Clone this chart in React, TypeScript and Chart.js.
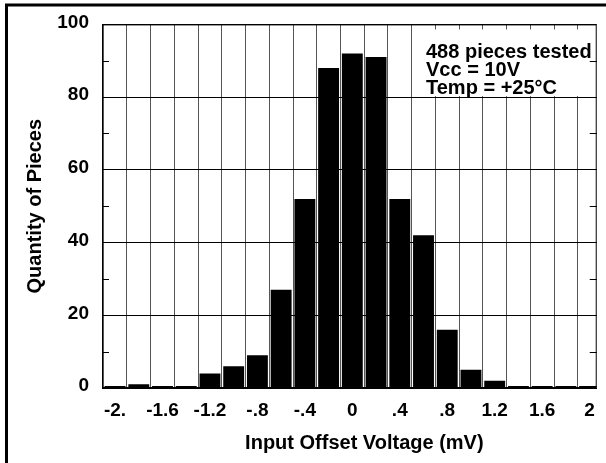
import React, { useEffect, useRef } from 'react';
import { Chart, registerables } from 'chart.js';

Chart.register(...registerables);

const voltages = [-2.0, -1.8, -1.6, -1.4, -1.2, -1.0, -0.8, -0.6, -0.4, -0.2, 0, 0.2, 0.4, 0.6, 0.8, 1.0, 1.2, 1.4, 1.6, 1.8, 2.0];
const counts = [0, 1, 0, 0, 4, 6, 9, 27, 52, 88, 92, 91, 52, 42, 16, 5, 2, 0, 0, 0, 0];
const xTickLabels = ['-2.', '-1.6', '-1.2', '-.8', '-.4', '0', '.4', '.8', '1.2', '1.6', '2'];
const yMinorTicks = [10, 30, 50, 70, 90];
const noteLines = ['488 pieces tested', 'Vcc = 10V', 'Temp = +25°C'];
const xTitle = 'Input Offset Voltage (mV)';
const yTitle = 'Quantity of Pieces';

const FONT = "'Liberation Sans', Arial, Helvetica, sans-serif";

const decorPlugin = {
  id: 'decor',
  beforeDraw(chart: any) {
    const ctx = chart.ctx;
    ctx.save();
    ctx.fillStyle = '#fff';
    ctx.fillRect(0, 0, chart.width, chart.height);
    ctx.strokeStyle = '#000';
    ctx.lineWidth = 3;
    ctx.beginPath();
    ctx.moveTo(6.5, chart.height + 5);
    ctx.lineTo(6.5, 5);
    ctx.lineTo(chart.width + 5, 5);
    ctx.stroke();
    ctx.restore();
  },
  afterDraw(chart: any) {
    const ctx = chart.ctx;
    const a = chart.chartArea;
    const y = chart.scales.y;
    ctx.save();
    // plot frame
    ctx.strokeStyle = '#000';
    ctx.lineWidth = 1;
    ctx.strokeRect(a.left + 0.5, a.top + 0.5, a.right - a.left - 1, a.bottom - a.top - 1);
    // minor ticks inside both sides
    ctx.beginPath();
    yMinorTicks.forEach((v) => {
      const py = Math.round(y.getPixelForValue(v)) + 0.5;
      ctx.moveTo(a.left, py);
      ctx.lineTo(a.left + 7, py);
      ctx.moveTo(a.right, py);
      ctx.lineTo(a.right - 7, py);
    });
    ctx.stroke();
    // annotation box
    const bx = a.left + 319;
    ctx.fillStyle = '#fff';
    ctx.fillRect(bx, a.top + 5, 168, y.getPixelForValue(80) - a.top - 6);
    ctx.fillStyle = '#000';
    ctx.font = `bold 20px ${FONT}`;
    ctx.textAlign = 'left';
    ctx.textBaseline = 'alphabetic';
    noteLines.forEach((t, i) => {
      ctx.fillText(t, bx + 5, a.top + 34 + i * 18);
    });
    // axis titles
    ctx.font = `bold 20px ${FONT}`;
    ctx.textAlign = 'center';
    ctx.textBaseline = 'middle';
    ctx.fillText(xTitle, (a.left + a.right) / 2 + 15, a.bottom + 55);
    ctx.save();
    ctx.translate(35, (a.top + a.bottom) / 2);
    ctx.rotate(-Math.PI / 2);
    ctx.fillText(yTitle, 0, 0);
    ctx.restore();
    ctx.restore();
  },
};

export default function App() {
  const canvasRef = useRef<HTMLCanvasElement | null>(null);

  useEffect(() => {
    document.body.style.margin = '0';
    const canvas = canvasRef.current;
    if (!canvas) return;
    const chart = new Chart(canvas, {
      type: 'bar',
      data: {
        datasets: [
          {
            data: voltages.map((v, i) => ({ x: v, y: counts[i] })),
            backgroundColor: '#000',
            borderWidth: 0,
            barPercentage: 0.88,
            categoryPercentage: 1,
            minBarLength: 2,
          },
        ],
      },
      options: {
        animation: false,
        responsive: false,
        devicePixelRatio: 1,
        layout: { padding: { top: 20, right: 8, left: 0, bottom: 0 } },
        plugins: { legend: { display: false }, tooltip: { enabled: false } },
        scales: {
          x: {
            type: 'linear',
            min: -2.11,
            max: 2.06,
            offset: false,
            afterBuildTicks: (scale: any) => {
              scale.ticks = voltages.map((v) => ({ value: v }));
            },
            afterFit: (scale: any) => {
              scale.height = 75;
            },
            ticks: {
              autoSkip: false,
              maxRotation: 0,
              padding: 11,
              color: '#000',
              font: { family: FONT, size: 19, weight: 'bold' },
              callback: (_v: any, i: number) => (i % 2 === 0 ? xTickLabels[i / 2] : ''),
            },
            grid: { color: '#555', lineWidth: 1, drawTicks: false },
            border: { color: '#000', width: 1 },
          },
          y: {
            min: 0,
            max: 100,
            afterFit: (scale: any) => {
              scale.width = 102;
            },
            ticks: {
              stepSize: 20,
              padding: 13,
              labelOffset: -2,
              color: '#000',
              font: { family: FONT, size: 19, weight: 'bold' },
            },
            grid: { color: '#000', lineWidth: 1, drawTicks: false },
            border: { color: '#000', width: 1 },
          },
        },
      },
      plugins: [decorPlugin],
    } as any);
    return () => chart.destroy();
  }, []);

  return (
    <div style={{ position: 'absolute', left: 0, top: 0, width: 606, height: 463, overflow: 'hidden' }}>
      <canvas ref={canvasRef} width={606} height={463} style={{ display: 'block', width: 606, height: 463 }} />
    </div>
  );
}
